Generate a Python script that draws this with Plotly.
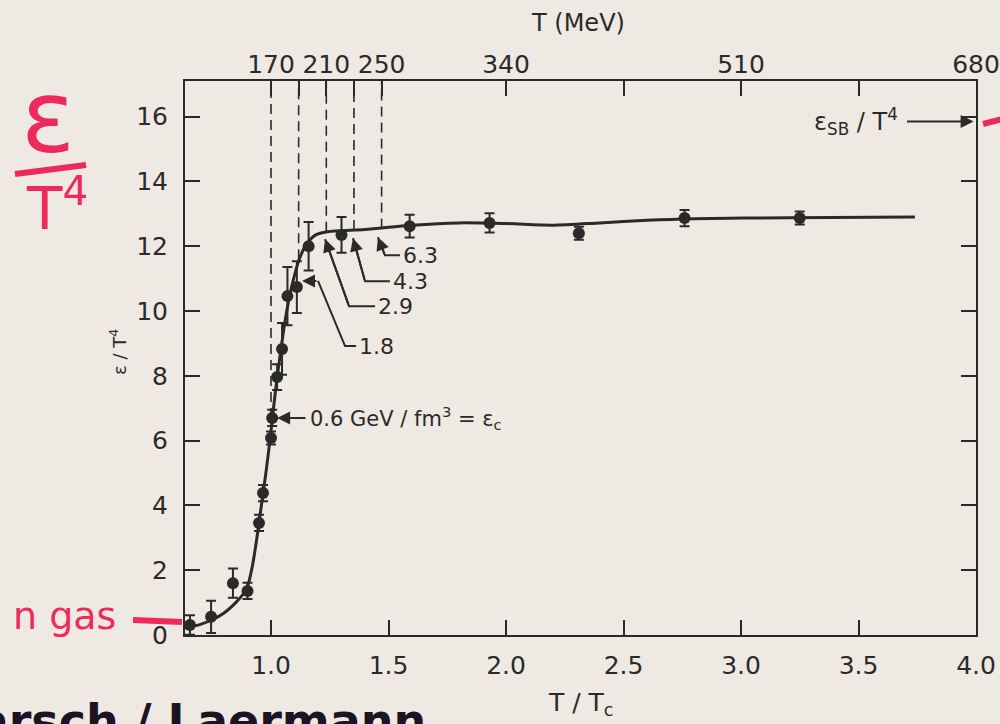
import plotly.graph_objects as go

# ---------------- data ----------------
# lattice points: T/Tc, eps/T^4, error
t_ratio = [0.655, 0.745, 0.838, 0.90, 0.949, 0.966, 1.0, 1.005, 1.026, 1.047,
           1.07, 1.11, 1.16, 1.30, 1.59, 1.93, 2.31, 2.76, 3.25]
eps_t4 = [0.31, 0.56, 1.6, 1.36, 3.46, 4.38, 6.08, 6.7, 7.96, 8.83,
          10.46, 10.74, 12.0, 12.35, 12.62, 12.72, 12.4, 12.87, 12.87]
eps_err = [0.3, 0.5, 0.45, 0.25, 0.25, 0.25, 0.2, 0.25, 0.4, 0.8,
           0.9, 0.8, 0.75, 0.55, 0.35, 0.3, 0.2, 0.25, 0.2]

# smooth curve
curve_x = [0.634, 0.70, 0.75, 0.80, 0.85, 0.88, 0.90, 0.92, 0.94, 0.96, 0.98,
           1.00, 1.02, 1.04, 1.06, 1.08, 1.10, 1.12, 1.15, 1.19, 1.24, 1.40,
           1.60, 1.80, 2.00, 2.20, 2.40, 2.60, 2.80, 3.20, 3.74]
curve_y = [0.22, 0.33, 0.47, 0.68, 1.0, 1.25, 1.5, 2.1, 3.0, 4.05, 5.1,
           6.3, 7.6, 8.7, 9.7, 10.5, 11.1, 11.6, 12.05, 12.35, 12.45, 12.52,
           12.65, 12.72, 12.7, 12.65, 12.72, 12.8, 12.85, 12.88, 12.9]

# dashed guide lines (temperature in MeV) and where they meet the curve
dash_T = [170, 190, 210, 230, 250]
dash_bottom = [6.7, 11.6, 12.45, 12.5, 12.55]

# energy-density labels (GeV/fm^3) with leader lines: tip, bend, end (T/Tc, eps/T^4)
edens_labels = ["1.8", "2.9", "4.3", "6.3"]
lead_tip_x = [1.132, 1.23, 1.349, 1.455]
lead_tip_y = [10.93, 12.22, 12.25, 12.28]
lead_bend1_x = [1.20, 1.23, 1.349, 1.455]
lead_bend1_y = [10.93, 12.22, 12.25, 12.28]
lead_bend2_x = [1.315, 1.332, 1.40, 1.485]
lead_bend2_y = [8.92, 10.15, 10.92, 11.72]
lead_end_x = [1.362, 1.443, 1.506, 1.549]

# axis ticks
x_ticks = [1.0, 1.5, 2.0, 2.5, 3.0, 3.5, 4.0]
x_ticklabels = ["1.0", "1.5", "2.0", "2.5", "3.0", "3.5", "4.0"]
y_ticks = [0, 2, 4, 6, 8, 10, 12, 14, 16]
top_ticks = [170, 190, 210, 230, 250, 340, 425, 510, 595, 680]
top_ticklabels = ["170", "", "210", "", "250", "340", "", "510", "", "680"]
Tc_MeV = 170
eps_SB = 15.85

X_RANGE = [0.634, 4.0]
Y_RANGE = [0, 17.1]

INK = "#2a2a2a"
PAPER = "#eeeae3"
RED = "#ee2a5c"
FONT = "DejaVu Sans, Liberation Sans, sans-serif"

fig = go.Figure()

# curve
fig.add_trace(go.Scatter(x=curve_x, y=curve_y, mode="lines",
                         line=dict(color=INK, width=3, shape="spline", smoothing=0.8),
                         hoverinfo="skip", showlegend=False))
# dashed verticals (on the MeV axis)
for T, yb in zip(dash_T, dash_bottom):
    fig.add_trace(go.Scatter(x=[T, T], y=[yb, Y_RANGE[1]], xaxis="x2", yaxis="y",
                             mode="lines", line=dict(color=INK, width=1.6, dash="10px,6px"),
                             hoverinfo="skip", showlegend=False))
# data points
fig.add_trace(go.Scatter(x=t_ratio, y=eps_t4, mode="markers",
                         marker=dict(color=INK, size=12),
                         error_y=dict(type="data", array=eps_err, color=INK, thickness=2, width=5),
                         cliponaxis=False, showlegend=False))
# leader lines
for i in range(len(edens_labels)):
    fig.add_trace(go.Scatter(x=[lead_bend1_x[i], lead_bend2_x[i], lead_end_x[i]],
                             y=[lead_bend1_y[i], lead_bend2_y[i], lead_bend2_y[i]],
                             mode="lines", line=dict(color=INK, width=2),
                             hoverinfo="skip", showlegend=False))

annotations = []
for i, lab in enumerate(edens_labels):
    straight = lead_bend1_x[i] == lead_tip_x[i]
    annotations.append(dict(x=lead_tip_x[i], y=lead_tip_y[i], xref="x", yref="y",
                            ax=lead_bend2_x[i] if straight else lead_bend1_x[i],
                            ay=lead_bend2_y[i] if straight else lead_bend1_y[i],
                            axref="x", ayref="y", text="", showarrow=True,
                            arrowhead=2, arrowsize=1.3, arrowwidth=2, arrowcolor=INK))
    annotations.append(dict(x=lead_end_x[i] + 0.004, y=lead_bend2_y[i], xref="x", yref="y",
                            text=lab, showarrow=False, xanchor="left", yanchor="middle",
                            font=dict(family=FONT, size=22, color=INK)))

# epsilon_c arrow
annotations.append(dict(x=1.026, y=6.7, xref="x", yref="y", ax=1.153, ay=6.7,
                        axref="x", ayref="y", text="", showarrow=True,
                        arrowhead=2, arrowsize=1.3, arrowwidth=2, arrowcolor=INK))
annotations.append(dict(x=1.158, y=6.7, xref="x", yref="y",
                        text="0.6 GeV / fm<sup>3</sup> = ε<sub>c</sub>", showarrow=False,
                        xanchor="left", yanchor="middle",
                        font=dict(family=FONT, size=21, color=INK)))
# SB limit arrow
annotations.append(dict(x=3.99, y=eps_SB, xref="x", yref="y", ax=3.70, ay=eps_SB,
                        axref="x", ayref="y", text="", showarrow=True,
                        arrowhead=2, arrowsize=1.3, arrowwidth=2, arrowcolor=INK))
annotations.append(dict(x=3.675, y=eps_SB, xref="x", yref="y",
                        text="ε<sub>SB</sub> / T<sup>4</sup>", showarrow=False,
                        xanchor="right", yanchor="middle",
                        font=dict(family=FONT, size=24, color=INK)))


def px_x(px):
    return (px - 185) / 791.0


def px_y(py):
    return (635 - py) / 554.0


# axis titles
annotations.append(dict(x=px_x(578), y=px_y(23), xref="paper", yref="paper",
                        text="T (MeV)", showarrow=False, xanchor="center", yanchor="middle",
                        font=dict(family=FONT, size=24, color=INK)))
annotations.append(dict(x=px_x(580), y=px_y(704), xref="paper", yref="paper",
                        text="T / T<sub>c</sub>", showarrow=False, xanchor="center", yanchor="middle",
                        font=dict(family=FONT, size=25, color=INK)))
annotations.append(dict(x=px_x(118), y=px_y(352), xref="paper", yref="paper",
                        text="ε / T<sup>4</sup>", showarrow=False, xanchor="center", yanchor="middle",
                        textangle=-90, font=dict(family=FONT, size=18, color=INK)))

# handwritten notes
annotations.append(dict(x=px_x(48), y=px_y(118), xref="paper", yref="paper",
                        text="ε", showarrow=False, xanchor="center", yanchor="middle",
                        font=dict(family="DejaVu Sans", size=100, color=RED)))
annotations.append(dict(x=px_x(57), y=px_y(205), xref="paper", yref="paper",
                        text="T<sup>4</sup>", showarrow=False, xanchor="center", yanchor="middle",
                        font=dict(family="DejaVu Sans", size=58, color=RED)))
annotations.append(dict(x=px_x(118), y=px_y(616), xref="paper", yref="paper",
                        text="n gas", showarrow=False, xanchor="right", yanchor="middle",
                        font=dict(family="DejaVu Sans", size=38, color=RED)))
annotations.append(dict(x=px_x(-60), y=px_y(721), xref="paper", yref="paper",
                        text="<b>Karsch / Laermann</b>", showarrow=False, xanchor="left", yanchor="middle",
                        font=dict(family="DejaVu Sans", size=46, color="#1c1424")))

shapes = [
    dict(type="line", xref="paper", yref="paper", x0=px_x(15), y0=px_y(174), x1=px_x(86), y1=px_y(165),
         line=dict(color=RED, width=6)),
    dict(type="line", xref="paper", yref="paper", x0=px_x(133), y0=px_y(620), x1=px_x(182), y1=px_y(622),
         line=dict(color=RED, width=6)),
    dict(type="line", xref="paper", yref="paper", x0=px_x(983), y0=px_y(124), x1=px_x(1002), y1=px_y(119),
         line=dict(color=RED, width=6)),
]

axis_common = dict(showgrid=False, zeroline=False, ticks="inside", ticklen=15, tickwidth=2,
                   tickcolor=INK, tickfont=dict(family=FONT, size=25, color=INK),
                   automargin=False)

fig.update_layout(
    width=1000, height=724,
    margin=dict(l=185, r=24, t=81, b=89, autoexpand=False),
    paper_bgcolor=PAPER, plot_bgcolor=PAPER,
    showlegend=False,
    xaxis=dict(range=X_RANGE, tickvals=x_ticks, ticktext=x_ticklabels,
               showline=True, linewidth=2, linecolor=INK, mirror=True,
               ticklabelstandoff=7, **axis_common),
    xaxis2=dict(range=[X_RANGE[0] * Tc_MeV, X_RANGE[1] * Tc_MeV], overlaying="x", side="top",
                anchor="y", tickvals=top_ticks, ticktext=top_ticklabels, showline=False,
                ticklabelstandoff=2, **axis_common),
    yaxis=dict(range=Y_RANGE, tickvals=y_ticks, showline=True, linewidth=2, linecolor=INK,
               mirror="ticks", ticklabelstandoff=10, **axis_common),
    annotations=annotations,
    shapes=shapes,
)

fig.write_html("out.html")
